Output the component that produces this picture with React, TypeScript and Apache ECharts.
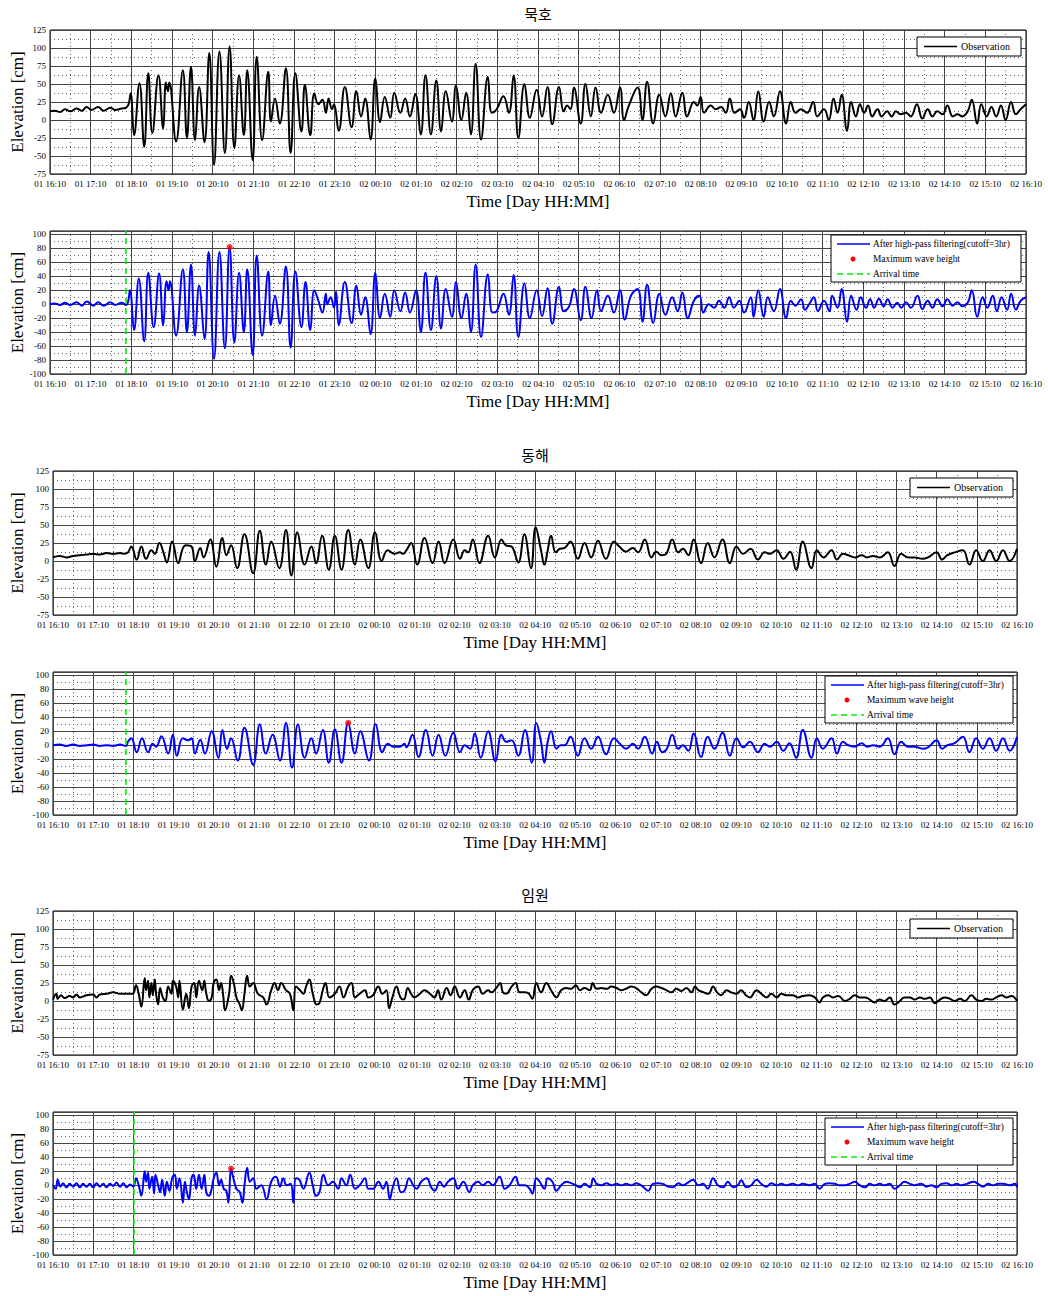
import React, { useEffect, useRef } from "react";
import * as echarts from "echarts";

// ---- time axis: minutes since "01 16:10" ----
const START_MIN = 16 * 60 + 10;
const SPAN_MIN = 1440;
const HOUR_STEP = 60;

const stationNames = ["묵호", "동해", "임원"];
const obsName = "Observation";
const filtName = "After high-pass filtering(cutoff=3hr)";
const maxName = "Maximum wave height";
const arrName = "Arrival time";
const xTitle = "Time [Day HH:MM]";
const yTitle = "Elevation [cm]";

const obsTicks = { min: -75, max: 125, step: 25 };
const filtTicks = { min: -100, step: 20 };

// arrival time (minutes) and maximum wave [minute, cm]
const arrivalMin = [112, 109, 121];
const maxWave: [number, number][] = [[265, 82], [441, 32], [266, 24]];

// ---- 묵호 ----
const mukhoObs: [number, number][] = [
[0,12],[7,13],[15,11],[22,15],[30,12],[39,16],[47,13],[54,18],[61,14],[71,18],[79,13],[89,17],[96,14],[106,16],[112,17],[116,22],[119,37],[124,-21],[132,51],[139,-37],[145,65],[151,-18],[160,62],[167,-12],[171,52],[174,40],[176,52],[186,-30],[196,69],[202,-25],[208,74],[214,-28],[220,46],[228,-31],[235,93],[242,-62],[250,95],[258,-46],[265,102],[272,-39],[279,62],[286,-21],[291,69],[299,-56],[305,88],[313,-28],[322,67],[326,-2],[332,30],[339,-5],[348,72],[355,-46],[362,65],[371,-16],[376,49],[384,-21],[390,37],[396,22],[402,28],[407,10],[411,30],[416,15],[419,22],[426,-15],[435,46],[445,-10],[452,40],[459,5],[465,30],[473,-27],[480,58],[487,-3],[494,32],[502,3],[508,38],[517,10],[524,30],[531,5],[539,36],[547,-20],[554,62],[562,-20],[570,55],[577,-16],[584,40],[593,-2],[599,48],[607,0],[614,38],[621,-20],[628,78],[636,-27],[646,60],[652,10],[659,15],[669,33],[677,10],[684,62],[691,-25],[700,50],[708,3],[718,42],[726,5],[734,46],[741,-6],[751,46],[758,12],[763,20],[768,15],[773,45],[783,-5],[790,50],[798,5],[805,45],[813,10],[823,35],[832,10],[841,45],[847,0],[854,20],[867,45],[874,0],[881,53],[890,-5],[899,35],[908,5],[916,37],[923,5],[933,38],[940,5],[950,25],[955,20],[960,32],[965,10],[975,20],[982,15],[990,18],[997,10],[1003,30],[1010,10],[1018,15],[1024,3],[1031,25],[1038,0],[1045,40],[1053,-2],[1061,25],[1068,5],[1077,40],[1086,-5],[1093,25],[1100,10],[1108,15],[1117,10],[1126,25],[1132,5],[1142,15],[1149,0],[1156,30],[1162,10],[1168,35],[1176,-15],[1182,25],[1189,5],[1195,22],[1201,10],[1207,20],[1213,5],[1221,15],[1227,5],[1235,12],[1242,5],[1248,12],[1255,8],[1263,10],[1270,5],[1279,22],[1287,2],[1295,15],[1302,5],[1309,12],[1317,8],[1324,20],[1332,5],[1339,8],[1346,5],[1354,12],[1360,28],[1368,-5],[1374,22],[1382,5],[1389,18],[1396,5],[1403,20],[1410,0],[1418,25],[1425,8],[1432,15],[1440,22]
];
const mukhoFilt: [number, number][] = [
[0,0],[7,1],[15,-1],[22,2],[30,-1],[39,3],[47,-2],[54,4],[64,-2],[71,3],[79,-2],[89,3],[96,-1],[106,2],[112,-1],[115,3],[118,20],[124,-37],[131,37],[139,-53],[145,45],[153,-33],[161,44],[167,-30],[172,33],[175,20],[177,33],[186,-45],[196,50],[202,-40],[208,57],[214,-45],[220,27],[228,-50],[234,75],[242,-78],[250,75],[258,-63],[265,82],[272,-55],[279,45],[286,-40],[291,50],[299,-73],[305,70],[313,-45],[322,47],[326,-30],[332,12],[339,-28],[348,54],[355,-62],[362,47],[371,-33],[377,32],[384,-37],[390,20],[396,5],[402,-12],[407,15],[409,0],[414,10],[419,-5],[422,18],[426,-30],[435,32],[445,-27],[452,27],[459,-15],[465,10],[473,-43],[480,45],[487,-20],[494,15],[502,-18],[508,20],[517,-10],[524,17],[531,-12],[540,20],[547,-40],[554,45],[562,-37],[570,40],[577,-35],[584,22],[593,-18],[599,32],[607,-20],[614,15],[621,-40],[628,57],[636,-47],[646,43],[653,-12],[659,-10],[669,15],[677,-15],[684,42],[691,-47],[700,30],[708,-20],[718,20],[726,-17],[734,23],[741,-28],[751,25],[758,-10],[766,-3],[773,22],[783,-23],[790,25],[799,-20],[807,20],[813,-10],[823,12],[832,-12],[841,20],[848,-22],[857,12],[867,22],[874,-25],[881,28],[890,-27],[899,15],[908,-15],[918,10],[926,-10],[933,17],[941,-20],[950,5],[958,12],[964,-12],[972,0],[980,-5],[987,5],[995,-5],[1002,10],[1009,-5],[1017,5],[1024,-12],[1034,10],[1038,-18],[1045,20],[1053,-18],[1059,10],[1068,-10],[1077,22],[1086,-20],[1093,5],[1100,-2],[1108,7],[1114,-8],[1120,0],[1127,10],[1133,-10],[1142,5],[1150,-10],[1154,12],[1162,-5],[1168,22],[1176,-25],[1182,12],[1190,-8],[1196,10],[1204,-5],[1210,7],[1216,-5],[1223,8],[1230,-3],[1236,7],[1243,-5],[1250,2],[1256,-5],[1263,3],[1270,-5],[1280,12],[1287,-7],[1295,5],[1302,-5],[1309,7],[1317,-3],[1324,7],[1332,-2],[1339,3],[1346,-3],[1354,2],[1360,20],[1368,-18],[1376,10],[1383,-5],[1391,12],[1397,-10],[1404,10],[1412,-8],[1418,15],[1425,-8],[1432,5],[1440,10]
];

// ---- 동해 ----
const donghaeObs: [number, number][] = [
[0,5],[10,7],[20,5],[30,7],[40,8],[50,9],[60,10],[70,9],[80,11],[90,10],[100,11],[107,10],[112,12],[117,20],[125,2],[132,20],[139,3],[147,15],[152,10],[159,25],[165,12],[170,-2],[178,27],[187,-3],[194,18],[199,22],[207,20],[212,0],[220,18],[225,5],[235,30],[244,-8],[253,32],[259,8],[266,22],[275,-10],[286,37],[299,-17],[309,42],[318,-5],[326,27],[338,-10],[348,43],[356,-20],[365,40],[376,-5],[386,20],[393,-3],[402,35],[412,-12],[421,35],[431,-12],[441,43],[451,-5],[459,30],[471,-10],[481,40],[491,0],[500,15],[510,10],[518,12],[523,10],[528,15],[535,25],[544,-5],[555,32],[567,-3],[576,27],[585,-3],[598,30],[608,3],[615,15],[620,12],[627,30],[637,-3],[650,35],[660,5],[670,30],[676,22],[685,20],[695,-2],[704,37],[714,-10],[721,47],[729,15],[734,-5],[739,15],[744,35],[751,12],[757,17],[764,18],[773,27],[784,3],[794,25],[804,5],[814,28],[826,3],[838,27],[846,20],[856,13],[866,18],[874,12],[884,30],[894,5],[901,13],[909,8],[916,10],[925,30],[934,12],[941,17],[949,8],[957,30],[968,-3],[978,25],[988,5],[1000,30],[1011,-3],[1021,20],[1031,10],[1042,17],[1053,2],[1063,12],[1071,10],[1081,15],[1091,3],[1101,13],[1110,-12],[1120,27],[1133,-10],[1141,15],[1151,5],[1163,15],[1171,2],[1180,10],[1188,8],[1198,5],[1208,8],[1216,5],[1225,7],[1235,5],[1247,12],[1257,-7],[1267,10],[1277,5],[1287,5],[1299,3],[1307,5],[1320,12],[1328,2],[1336,8],[1347,12],[1359,15],[1369,-5],[1379,15],[1389,0],[1399,15],[1409,0],[1419,15],[1429,0],[1440,17]
];
const donghaeFilt: [number, number][] = [
[0,0],[10,1],[20,-1],[30,1],[40,-1],[50,0],[60,1],[70,-1],[80,0],[90,-1],[100,1],[109,-1],[112,5],[117,10],[125,-10],[133,10],[142,-10],[149,2],[154,-2],[162,13],[172,-12],[179,15],[185,-15],[194,10],[202,7],[207,10],[212,-12],[220,8],[227,-12],[237,20],[247,-18],[253,22],[260,-5],[266,10],[276,-22],[286,25],[299,-28],[309,30],[318,-12],[328,15],[339,-22],[348,32],[357,-32],[366,30],[376,-18],[386,10],[393,-12],[403,22],[412,-25],[421,23],[431,-25],[441,32],[451,-12],[459,20],[472,-22],[482,30],[492,-10],[500,2],[508,-2],[518,-2],[525,2],[528,-3],[537,15],[546,-17],[557,22],[567,-15],[576,15],[586,-15],[598,18],[608,-10],[615,0],[623,-5],[630,17],[639,-18],[650,20],[661,-23],[670,15],[677,5],[685,7],[695,-15],[705,22],[715,-25],[722,32],[729,5],[734,-25],[739,5],[744,20],[752,-5],[758,0],[764,0],[773,12],[784,-15],[794,10],[804,-5],[814,12],[826,-13],[838,10],[846,3],[856,-5],[866,2],[874,-5],[884,12],[895,-12],[902,5],[910,-10],[917,-5],[925,15],[934,-5],[941,0],[949,-8],[957,17],[968,-17],[978,12],[988,-5],[1000,18],[1011,-15],[1021,10],[1031,-3],[1041,5],[1053,-10],[1063,2],[1071,-2],[1081,5],[1091,-8],[1100,3],[1110,-18],[1120,22],[1133,-18],[1141,10],[1150,-5],[1163,10],[1171,-12],[1180,5],[1188,0],[1198,-2],[1208,3],[1216,-2],[1225,0],[1235,-2],[1247,10],[1257,-13],[1267,5],[1277,-2],[1287,-2],[1299,-5],[1307,-3],[1320,7],[1328,-5],[1336,0],[1347,3],[1359,12],[1369,-10],[1379,10],[1389,-5],[1399,10],[1409,-8],[1419,10],[1429,-8],[1440,12]
];

// ---- 임원 ----
const imwonObs: [number, number][] = [
[0,2],[5,10],[7,3],[12,8],[17,4],[25,7],[30,5],[35,9],[40,5],[50,8],[60,9],[65,5],[70,9],[80,10],[90,12],[100,10],[110,10],[119,10],[124,22],[128,10],[132,-8],[137,32],[139,15],[142,28],[144,5],[147,25],[149,8],[152,30],[154,10],[157,-5],[160,18],[164,5],[168,0],[172,20],[177,10],[179,28],[184,20],[187,5],[189,28],[194,-12],[199,10],[203,-10],[207,20],[211,25],[214,5],[218,28],[223,15],[226,28],[229,10],[233,0],[237,5],[240,25],[244,30],[248,15],[251,25],[254,10],[257,-13],[263,10],[266,35],[270,25],[274,5],[279,-5],[282,-13],[286,10],[290,35],[294,20],[299,25],[306,10],[314,5],[319,-5],[326,15],[331,25],[336,15],[341,25],[348,15],[354,10],[359,-13],[363,20],[369,15],[374,10],[378,20],[383,30],[388,10],[394,-5],[398,-3],[403,15],[407,25],[413,5],[421,10],[428,20],[434,5],[441,20],[446,25],[451,5],[458,10],[466,15],[471,5],[478,8],[486,20],[492,10],[498,15],[502,-10],[507,5],[513,20],[519,5],[524,2],[530,18],[535,10],[540,5],[548,10],[555,15],[563,10],[570,5],[575,15],[580,2],[588,18],[594,8],[600,20],[608,5],[615,15],[621,2],[627,15],[635,20],[642,10],[650,15],[655,12],[662,18],[668,25],[672,12],[677,10],[685,20],[691,25],[697,12],[705,12],[711,10],[716,3],[722,25],[729,12],[737,25],[744,15],[752,5],[759,15],[767,18],[774,17],[781,22],[787,15],[794,18],[802,15],[806,25],[812,17],[819,18],[827,17],[834,20],[842,18],[849,15],[856,17],[864,20],[871,18],[879,12],[886,8],[894,17],[901,20],[909,18],[916,15],[924,12],[931,17],[939,14],[946,18],[954,12],[959,20],[964,15],[972,12],[979,10],[986,20],[992,12],[998,8],[1006,15],[1013,12],[1021,10],[1028,15],[1035,8],[1041,5],[1051,15],[1058,10],[1066,5],[1073,10],[1081,5],[1088,10],[1096,8],[1105,8],[1113,5],[1120,7],[1130,8],[1138,5],[1145,-2],[1150,5],[1158,8],[1165,5],[1173,7],[1183,0],[1190,3],[1198,8],[1205,5],[1213,5],[1220,2],[1227,-2],[1235,2],[1242,0],[1250,5],[1257,-5],[1265,0],[1272,5],[1280,5],[1287,2],[1295,5],[1302,3],[1310,5],[1317,-3],[1325,2],[1332,5],[1340,3],[1347,0],[1355,3],[1362,0],[1372,8],[1379,2],[1387,0],[1394,3],[1402,2],[1409,5],[1417,8],[1424,5],[1432,7],[1440,0]
];
const imwonFilt: [number, number][] = [
[0,0],[4,-5],[7,8],[11,-2],[15,3],[20,-3],[25,2],[30,-2],[35,3],[40,-3],[45,2],[50,-2],[55,2],[60,-3],[65,3],[70,-2],[75,2],[80,-3],[85,2],[90,-1],[95,4],[100,-2],[105,3],[110,-3],[115,1],[120,-2],[124,10],[128,0],[132,-15],[137,20],[139,5],[142,18],[144,-5],[148,12],[151,-12],[153,15],[157,0],[160,-10],[163,8],[167,-15],[170,5],[174,-8],[178,10],[182,15],[185,-5],[189,10],[194,-25],[197,5],[200,-10],[203,-20],[207,10],[210,15],[214,-5],[218,15],[222,-5],[226,15],[229,-10],[233,-15],[237,-5],[240,10],[244,18],[248,0],[251,8],[255,-5],[259,-8],[262,-25],[266,24],[269,12],[274,-5],[279,-10],[283,-25],[286,0],[290,25],[294,5],[299,10],[304,-5],[311,0],[319,-20],[326,5],[333,12],[339,-2],[344,10],[349,0],[355,2],[359,-25],[363,10],[368,8],[374,-5],[383,18],[388,0],[393,-15],[398,-10],[404,15],[411,0],[418,5],[426,-5],[431,10],[438,0],[444,15],[451,-5],[458,0],[466,10],[471,-5],[478,-5],[486,5],[493,-5],[498,5],[503,-20],[507,-5],[513,10],[520,-10],[525,-8],[532,10],[538,0],[543,-5],[550,5],[558,10],[565,-3],[570,-8],[578,5],[584,-2],[590,5],[598,10],[605,-5],[613,5],[622,-10],[627,0],[635,5],[642,0],[650,5],[657,0],[667,12],[675,-5],[682,0],[691,12],[697,0],[705,0],[712,-5],[716,-12],[722,10],[727,5],[734,-5],[739,10],[746,5],[752,-8],[759,0],[767,5],[774,3],[781,0],[787,-3],[794,2],[802,-3],[807,10],[812,2],[819,0],[827,3],[834,0],[842,2],[849,0],[856,2],[864,0],[871,3],[881,-2],[889,-8],[896,2],[904,3],[911,2],[919,-2],[926,-3],[934,3],[941,0],[950,5],[956,8],[964,0],[971,2],[978,-5],[986,10],[993,0],[1001,-3],[1008,5],[1016,-3],[1023,0],[1028,7],[1036,-3],[1043,0],[1051,8],[1058,2],[1066,-2],[1073,3],[1081,0],[1088,2],[1096,0],[1105,2],[1113,0],[1120,2],[1130,0],[1138,2],[1145,-5],[1153,2],[1160,3],[1168,2],[1175,0],[1183,0],[1190,2],[1198,5],[1205,0],[1213,-3],[1220,2],[1227,0],[1235,2],[1242,0],[1250,2],[1257,-5],[1265,0],[1272,5],[1280,2],[1287,0],[1297,2],[1305,-2],[1312,0],[1320,-3],[1327,2],[1335,3],[1342,0],[1350,2],[1357,0],[1365,2],[1375,5],[1382,2],[1389,-2],[1397,2],[1404,0],[1412,2],[1419,2],[1429,0],[1437,2],[1440,-3]
];

const SERIF = '"Liberation Serif", "Times New Roman", serif';
const CJK = '"Noto Sans CJK KR", sans-serif';

function pad(n: number) { return n < 10 ? "0" + n : String(n); }
function fmtTime(m: number) {
  const tot = START_MIN + m;
  const d = 1 + Math.floor(tot / 1440);
  const r = tot % 1440;
  return "0" + d + " " + pad(Math.floor(r / 60)) + ":" + pad(r % 60);
}

// layout (pixels) of the six plot boxes
const layout = [
  { left: 50, top: 30, width: 976, height: 144, yMax: 125 },
  { left: 50, top: 231, width: 976, height: 143, yMax: 105 },
  { left: 53, top: 471, width: 964, height: 144, yMax: 125 },
  { left: 53, top: 672, width: 964, height: 143, yMax: 105 },
  { left: 53, top: 911, width: 964, height: 144, yMax: 125 },
  { left: 53, top: 1112, width: 964, height: 143, yMax: 105 },
];
const legendBoxes = [
  { x: 917, y: 37, w: 104, h: 19 },
  { x: 831, y: 235, w: 190, h: 47 },
  { x: 910, y: 478, w: 103, h: 19 },
  { x: 825, y: 676, w: 188, h: 47 },
  { x: 910, y: 919, w: 103, h: 19 },
  { x: 825, y: 1118, w: 188, h: 47 },
];

const panelData = [mukhoObs, mukhoFilt, donghaeObs, donghaeFilt, imwonObs, imwonFilt];

export default function App() {
  const ref = useRef<HTMLDivElement>(null);
  useEffect(() => {
    if (!ref.current) return;
    const chart = echarts.init(ref.current, null, { renderer: "svg", width: 1048, height: 1296 });
    const grids: any[] = [];
    const xAxes: any[] = [];
    const yAxes: any[] = [];
    const series: any[] = [];
    const graphic: any[] = [];

    layout.forEach((L, i) => {
      const isObs = i % 2 === 0;
      const st = Math.floor(i / 2);
      grids.push({ left: L.left, top: L.top, width: L.width, height: L.height, show: true, borderColor: "#000", borderWidth: 1, backgroundColor: "#fff", containLabel: false });
      xAxes.push({
        gridIndex: i, type: "value", min: 0, max: SPAN_MIN, interval: HOUR_STEP,
        axisLine: { show: false }, axisTick: { show: false },
        axisLabel: { formatter: (v: number) => fmtTime(v), fontSize: 9, fontFamily: SERIF, color: "#000", margin: 5, showMinLabel: true, showMaxLabel: true },
        splitLine: { show: true, lineStyle: { color: "#444", width: 1 } },
        minorTick: { show: false, splitNumber: 2 },
        minorSplitLine: { show: true, lineStyle: { color: "#666", width: 1, type: [1, 3] } },
      });
      const t = isObs ? obsTicks : filtTicks;
      yAxes.push({
        gridIndex: i, type: "value", min: t.min, max: L.yMax, interval: t.step,
        axisLine: { show: false }, axisTick: { show: false },
        axisLabel: { formatter: (v: number) => (v % t.step === 0 ? String(v) : ""), fontSize: 9, fontFamily: SERIF, color: "#000", margin: 4 },
        splitLine: { show: true, lineStyle: { color: "#444", width: 1 } },
        minorTick: { show: false, splitNumber: 2 },
        minorSplitLine: { show: true, lineStyle: { color: "#666", width: 1, type: [1, 3] } },
      });
      series.push({
        type: "line", xAxisIndex: i, yAxisIndex: i, data: panelData[i], showSymbol: false, smooth: 0.45,
        lineStyle: { color: isObs ? "#000" : "#0000ff", width: 2 }, z: 3,
      });
      if (!isObs) {
        const a = arrivalMin[st];
        series.push({
          type: "line", xAxisIndex: i, yAxisIndex: i, data: [[a, -100], [a, L.yMax]], showSymbol: false,
          lineStyle: { color: "#00ee00", width: 1.6, type: [6, 4] }, z: 4,
        });
        series.push({
          type: "scatter", xAxisIndex: i, yAxisIndex: i, data: [maxWave[st]], symbolSize: 6,
          itemStyle: { color: "#ff0000" }, z: 5,
        });
      }
      if (isObs) {
        graphic.push({ type: "text", x: L.left + L.width / 2, y: L.top - 17, style: { text: stationNames[st], fontSize: 15, fontFamily: CJK, fill: "#000", align: "center", verticalAlign: "middle" } });
      }
      graphic.push({ type: "text", x: L.left + L.width / 2, y: L.top + L.height + 27, style: { text: xTitle, fontSize: 17, fontFamily: SERIF, fill: "#000", align: "center", verticalAlign: "middle" } });
      graphic.push({ type: "text", x: 17, y: L.top + L.height / 2, rotation: Math.PI / 2, style: { text: yTitle, fontSize: 17, fontFamily: SERIF, fill: "#000", align: "center", verticalAlign: "middle" } });
      const B = legendBoxes[i];
      graphic.push({ type: "rect", shape: { x: B.x, y: B.y, width: B.w, height: B.h }, style: { fill: "#fff", stroke: "#000", lineWidth: 1 }, z: 10 });
      if (isObs) {
        const ly = B.y + B.h / 2;
        graphic.push({ type: "line", shape: { x1: B.x + 7, y1: ly, x2: B.x + 40, y2: ly }, style: { stroke: "#000", lineWidth: 1.5 }, z: 11 });
        graphic.push({ type: "text", x: B.x + 44, y: ly, style: { text: obsName, fontSize: 10, fontFamily: SERIF, fill: "#000", align: "left", verticalAlign: "middle" }, z: 11 });
      } else {
        const rows = [B.y + 9, B.y + 24, B.y + 39];
        graphic.push({ type: "line", shape: { x1: B.x + 6, y1: rows[0], x2: B.x + 39, y2: rows[0] }, style: { stroke: "#0000ff", lineWidth: 1.5 }, z: 11 });
        graphic.push({ type: "circle", shape: { cx: B.x + 22, cy: rows[1], r: 2.5 }, style: { fill: "#ff0000" }, z: 11 });
        graphic.push({ type: "line", shape: { x1: B.x + 6, y1: rows[2], x2: B.x + 39, y2: rows[2] }, style: { stroke: "#00ee00", lineWidth: 1.5, lineDash: [6, 4] }, z: 11 });
        const texts = [filtName, maxName, arrName];
        texts.forEach((tx, k) => {
          graphic.push({ type: "text", x: B.x + 42, y: rows[k], style: { text: tx, fontSize: 9.4, fontFamily: SERIF, fill: "#000", align: "left", verticalAlign: "middle" }, z: 11 });
        });
      }
    });

    chart.setOption({
      animation: false,
      backgroundColor: "#fff",
      grid: grids,
      xAxis: xAxes,
      yAxis: yAxes,
      series,
      graphic,
    });
    return () => chart.dispose();
  }, []);
  return <div ref={ref} style={{ position: "absolute", left: 0, top: 0, width: 1048, height: 1296, background: "#fff" }} />;
}
